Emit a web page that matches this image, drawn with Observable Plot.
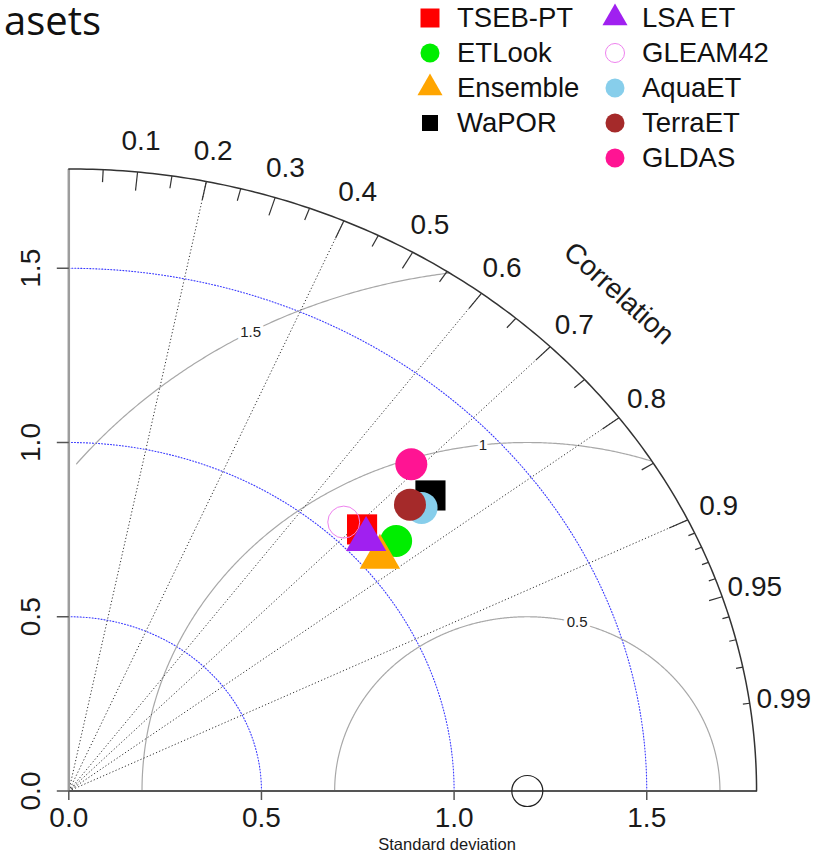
<!DOCTYPE html>
<html>
<head>
<meta charset="utf-8">
<script src="https://cdn.jsdelivr.net/npm/d3@7"></script>
<script src="https://cdn.jsdelivr.net/npm/@observablehq/plot@0.6"></script>
<style>
  body { margin: 0; background: #fff; }
  #wrap { position: relative; width: 827px; height: 854px; overflow: hidden;
          font-family: "Liberation Sans", Arial, sans-serif; }
  #wrap > svg { position: absolute; left: 0; top: 0; }
  #title { position: absolute; left: 4px; top: 2px; font-family: "Open Sans", sans-serif;
           font-size: 40px; line-height: 36px; color: #111; white-space: nowrap; }
  .leg { position: absolute; height: 34px; line-height: 34px; font-size: 27.5px; color: #111;
         white-space: nowrap; }
  .mk { position: absolute; }
</style>
</head>
<body>
<div id="wrap"><div id="title">asets</div></div>
<script>
// Model datasets compared against the reference (standard deviation, correlation)
const models    = ["TSEB-PT", "ETLook", "Ensemble", "WaPOR", "LSA ET", "GLEAM42", "AquaET", "TerraET", "GLDAS"];
const sdValues  = [1.069, 1.112, 1.050, 1.265, 1.057, 1.051, 1.224, 1.208, 1.292];
const corValues = [0.712, 0.764, 0.769, 0.742, 0.730, 0.679, 0.748, 0.733, 0.688];
const shapes    = ["square", "circle", "triangle", "square", "triangle", "circle", "circle", "circle", "circle"];
const colors    = ["#ff0000", "#00ee00", "#ffa500", "#000000", "#a020f0", "#ee82ee", "#87ceeb", "#a52a2a", "#ff1493"];
const filled    = [true, true, true, true, true, false, true, true, true];
// painting order of the points (later ones on top)
const drawOrder = ["Ensemble", "GLEAM42", "TSEB-PT", "LSA ET", "ETLook", "WaPOR", "AquaET", "TerraET", "GLDAS"];

// Reference (observed) standard deviation and diagram furniture
const refSD = 1.19;
const sdTicks = [0, 0.5, 1, 1.5];
const sdArcs = [0.5, 1, 1.5];
const rmsContours = [0.5, 1, 1.5];
const rmsLabelAngles = [75, 96.6, 118.6];
const corrLines = [0.2, 0.4, 0.6, 0.7, 0.8, 0.9];
const corrLabels = [0.1, 0.2, 0.3, 0.4, 0.5, 0.6, 0.7, 0.8, 0.9, 0.95, 0.99];
const bigTicks = [0.1, 0.2, 0.3, 0.4, 0.5, 0.6, 0.7, 0.8, 0.9];
const medTicks = [0.05, 0.15, 0.25, 0.35, 0.45, 0.55, 0.65, 0.75, 0.85, 0.95];
const smallTicks = [0.91, 0.92, 0.93, 0.94, 0.96, 0.97, 0.98, 0.99];

const maxsd = 1.5 * refSD;
const pxX = 385.3, pxY = 348.5, x0 = 68.3, y0 = 790.5;
const FONT = "Liberation Sans, Arial, Helvetica, sans-serif";

const polar = (sd, cor) => ({x: sd * cor, y: sd * Math.sqrt(Math.max(0, 1 - cor * cor))});
const deg = d3.range(0, 90.01, 0.5).map(a => a * Math.PI / 180);

// standard deviation arcs (blue dotted) and the outer boundary arc
const arcPts = sdArcs.flatMap(r => deg.map(t => ({r, x: r * Math.cos(t), y: r * Math.sin(t)})));
const outer = deg.map(t => ({x: maxsd * Math.cos(t), y: maxsd * Math.sin(t)}));

// centred RMS difference contours around the reference point
const contourPts = rmsContours.flatMap(r =>
  d3.range(0, 180.01, 0.25).map(a => {
    const t = a * Math.PI / 180;
    return {r, x: refSD + r * Math.cos(t), y: r * Math.sin(t)};
  }).filter(p => p.x >= 0.02 && p.x * p.x + p.y * p.y <= maxsd * maxsd)
);
const contourLabels = rmsContours.map((r, i) => {
  const t = rmsLabelAngles[i] * Math.PI / 180;
  return {r, x: refSD + r * Math.cos(t), y: r * Math.sin(t)};
});

const tickSegs = (list, frac) => list.map(c => {
  const a = polar(maxsd, c), b = polar(maxsd * (1 - frac), c);
  return {x1: a.x, y1: a.y, x2: b.x, y2: b.y};
});

const points = drawOrder.map(name => {
  const i = models.indexOf(name);
  const p = polar(sdValues[i], corValues[i]);
  const size = shapes[i] === "square" ? 17 : shapes[i] === "triangle" ? 15 : 16;
  return {name, x: p.x, y: p.y, shape: shapes[i], size,
          fill: filled[i] ? colors[i] : "none", stroke: filled[i] ? "none" : colors[i]};
});

const chart = Plot.plot({
  width: 827,
  height: 854,
  x: {domain: [0, 1], range: [x0, x0 + pxX], axis: null},
  y: {domain: [0, 1], range: [y0, y0 - pxY], axis: null},
  r: {type: "identity"},
  style: {fontFamily: FONT, background: "transparent", overflow: "visible"},
  marks: [
    // blue dotted standard deviation arcs
    Plot.line(arcPts, {x: "x", y: "y", z: "r", stroke: "#3a3aff", strokeWidth: 1.1, strokeDasharray: "1,2"}),
    // grey RMS contours
    Plot.line(contourPts, {x: "x", y: "y", z: "r", stroke: "#a8a8a8", strokeWidth: 1.2}),
    // correlation rays
    Plot.link(corrLines, {x1: 0, y1: 0, x2: c => polar(maxsd, c).x, y2: c => polar(maxsd, c).y,
      stroke: "#333", strokeWidth: 1, strokeDasharray: "1.2,2.2"}),
    // contour labels
    Plot.text(contourLabels, {x: "x", y: "y", text: d => String(d.r), fontSize: 15, fill: "#222",
      stroke: "white", strokeWidth: 7}),
    // axes
    Plot.link([0], {x1: 0, y1: 0, x2: 0, y2: maxsd, stroke: "#9d9d9d", strokeWidth: 2.5}),
    Plot.link([0], {x1: 0, y1: 0, x2: maxsd, y2: 0, stroke: "#555", strokeWidth: 2}),
    Plot.link(sdTicks, {x1: d => d, x2: d => d, y1: 0, y2: -9 / pxY, stroke: "#555", strokeWidth: 1.5}),
    Plot.link(sdTicks, {y1: d => d, y2: d => d, x1: 0, x2: -12 / pxX, stroke: "#555", strokeWidth: 1.5}),
    Plot.text(sdTicks, {x: d => d, y: 0, text: d => d.toFixed(1), dy: 27, fontSize: 28, fill: "#1a1a1a"}),
    Plot.text(sdTicks, {x: 0, y: d => d, text: d => d.toFixed(1), dx: -38, rotate: -90, fontSize: 28, fill: "#1a1a1a"}),
    // outer correlation arc with its ticks and labels
    Plot.line(outer, {x: "x", y: "y", stroke: "#333", strokeWidth: 1.5}),
    Plot.link(tickSegs(bigTicks, 0.03), {x1: "x1", y1: "y1", x2: "x2", y2: "y2", stroke: "#333", strokeWidth: 1.2}),
    Plot.link(tickSegs(medTicks, 0.02), {x1: "x1", y1: "y1", x2: "x2", y2: "y2", stroke: "#333", strokeWidth: 1.2}),
    Plot.link(tickSegs(smallTicks, 0.01), {x1: "x1", y1: "y1", x2: "x2", y2: "y2", stroke: "#333", strokeWidth: 1.2}),
    Plot.text(corrLabels, {x: c => polar(1.05 * maxsd, c).x, y: c => polar(1.05 * maxsd, c).y,
      text: c => String(c), fontSize: 28, fill: "#1a1a1a"}),
    Plot.text(["Correlation"], {x: 0.8 * maxsd, y: 0.8 * maxsd, text: d => d, rotate: 42, fontSize: 28, fill: "#1a1a1a"}),
    Plot.text(["Standard deviation"], {x: 0.55 * maxsd, y: 0, text: d => d, dy: 54, fontSize: 16.5, fill: "#1a1a1a"}),
    // reference point
    Plot.dot([refSD], {x: d => d, y: 0, r: 15.5, fill: "none", stroke: "#222", strokeWidth: 1.2}),
    // model points
    Plot.dot(points, {x: "x", y: "y", symbol: "shape", r: "size", fill: "fill", stroke: "stroke", strokeWidth: 1})
  ]
});

const wrap = document.getElementById("wrap");
wrap.insertBefore(chart, wrap.firstChild);

// legend in two columns
const symbolType = {square: d3.symbolSquare, circle: d3.symbolCircle, triangle: d3.symbolTriangle};
const legendArea = {square: 361, circle: 284, triangle: 271};
models.forEach((name, i) => {
  const col = i < 4 ? 0 : 1, row = i < 4 ? i : i - 4;
  const mx = col === 0 ? 430 : 615, tx = col === 0 ? 457 : 642;
  const cy = 18 + row * 35.1;
  const area = name === "WaPOR" ? 256 : legendArea[shapes[i]];
  const path = d3.symbol(symbolType[shapes[i]], area)();
  const ns = "http://www.w3.org/2000/svg";
  const svg = document.createElementNS(ns, "svg");
  svg.setAttribute("width", 30); svg.setAttribute("height", 30);
  svg.setAttribute("class", "mk");
  svg.style.left = (mx - 15) + "px"; svg.style.top = (cy - 15) + "px";
  const p = document.createElementNS(ns, "path");
  p.setAttribute("d", path);
  p.setAttribute("transform", "translate(15,15)");
  p.setAttribute("fill", filled[i] ? colors[i] : "none");
  p.setAttribute("stroke", filled[i] ? "none" : colors[i]);
  svg.appendChild(p);
  wrap.appendChild(svg);
  const t = document.createElement("div");
  t.className = "leg";
  t.textContent = name;
  t.style.left = tx + "px"; t.style.top = (cy - 17) + "px";
  wrap.appendChild(t);
});
</script>
</body>
</html>
